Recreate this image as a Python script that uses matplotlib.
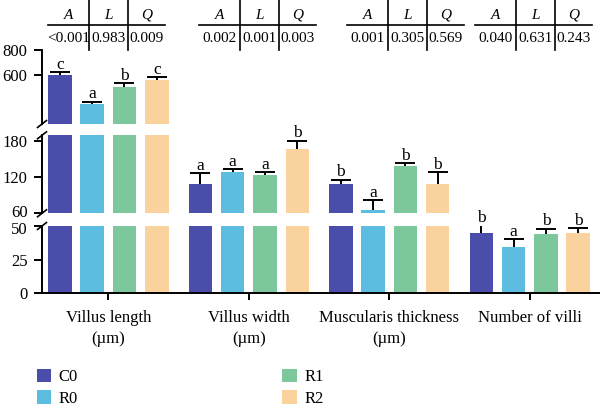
import matplotlib
matplotlib.use("Agg")
import matplotlib.pyplot as plt
import numpy as np
from matplotlib.lines import Line2D
from matplotlib.patches import Patch
from matplotlib.transforms import blended_transform_factory, ScaledTranslation

plt.rcParams['font.family'] = ['Liberation Serif', 'DejaVu Serif']

# data
groups = ["Villus length\n(µm)", "Villus width\n(µm)",
          "Muscularis thickness\n(µm)", "Number of villi"]
treatments = ["C0", "R0", "R1", "R2"]
colors = ["#4b4daa", "#5dbde0", "#7cc89c", "#fad29e"]

c0_mean = [598, 108, 108, 45]
r0_mean = [366, 128, 65.5, 34.6]
r1_mean = [501, 124, 139, 44]
r2_mean = [560, 167, 109, 44.5]

c0_err = [22, 19, 8, 5.5]
r0_err = [16, 5, 16, 5.5]
r1_err = [32, 4, 4.5, 4]
r2_err = [18, 14, 20, 4]

c0_letters = ["c", "a", "b", "b"]
r0_letters = ["a", "a", "a", "a"]
r1_letters = ["b", "a", "b", "b"]
r2_letters = ["c", "b", "b", "b"]

table_header = ["A", "L", "Q"]
p_values = [["<0.001", "0.983", "0.009"],
            ["0.002", "0.001", "0.003"],
            ["0.001", "0.305", "0.569"],
            ["0.040", "0.631", "0.243"]]

means = [c0_mean, r0_mean, r1_mean, r2_mean]
errs = [c0_err, r0_err, r1_err, r2_err]
letters = [c0_letters, r0_letters, r1_letters, r2_letters]

# broken y axis segments (bottom -> top)
segments = [(0, 50, [0, 25, 50]), (60, 190, [60, 120, 180]), (200, 800, [600, 800])]
seg_pos = [(0.2836, 0.1638), (0.4785, 0.1907), (0.6968, 0.1810)]

fig = plt.figure(figsize=(6, 4.09), dpi=100)
axes = []
x = np.arange(len(groups))
offs = (np.arange(4) - 1.5) * 0.23
width = 0.167
fs = 11

for (lo, hi, ticks), (b, h) in zip(segments, seg_pos):
    ax = fig.add_axes([0.07, b, 0.93, h])
    for i in range(4):
        ax.bar(x + offs[i], means[i], width, color=colors[i], linewidth=0)
        _, caps, _ = ax.errorbar(x + offs[i], means[i], yerr=[np.zeros(4), errs[i]],
                                 fmt='none', ecolor='black', elinewidth=1.4,
                                 capsize=7, capthick=1.4)
        caps[0].set_visible(False)
    ax.set_ylim(lo, hi)
    ax.set_xlim(-0.472, 3.5)
    ax.set_yticks(ticks)
    ax.tick_params(axis='y', labelsize=12, width=1.4, length=5.5, pad=5)
    for s in ['top', 'right']:
        ax.spines[s].set_visible(False)
    ax.spines['left'].set_linewidth(1.4)
    if axes:
        ax.spines['bottom'].set_visible(False)
        ax.set_xticks([])
    else:
        ax.spines['bottom'].set_linewidth(1.4)
        ax.set_xticks(x)
        ax.set_xticklabels(groups, fontsize=12, linespacing=1.45)
        ax.tick_params(axis='x', width=1.4, length=5, pad=7)
    ax.patch.set_alpha(0)
    axes.append(ax)

# nudge the crowded 50 / 60 labels apart a little
fig.canvas.draw()
axes[0].get_yticklabels()[-1].set_transform(
    axes[0].get_yticklabels()[-1].get_transform() + ScaledTranslation(0, -1.5 / 72, fig.dpi_scale_trans))
axes[1].get_yticklabels()[0].set_transform(
    axes[1].get_yticklabels()[0].get_transform() + ScaledTranslation(0, 1.5 / 72, fig.dpi_scale_trans))

# break marks on the left spine
for k, ax in enumerate(axes):
    kw = dict(transform=ax.transAxes, color='black', lw=1.2, clip_on=False)
    dx, dy = 0.008, 0.05 * 0.17 / seg_pos[k][1]
    if k < len(axes) - 1:
        ax.plot([-dx, dx], [1 - dy, 1 + dy], **kw)
    if k > 0:
        ax.plot([-dx, dx], [-dy, dy], **kw)

# significance letters
for i in range(4):
    for g in range(4):
        top = means[i][g] + errs[i][g]
        for (lo, hi, _), ax in zip(segments, axes):
            if lo <= top <= hi + 15:
                ax.annotate(letters[i][g], (x[g] + offs[i], top), xytext=(0, -0.5),
                            textcoords='offset points', ha='center', va='bottom',
                            fontsize=12.5, annotation_clip=False)
                break

# p-value tables above each group
tr = blended_transform_factory(axes[-1].transData, fig.transFigure)
table_left = [-0.431, 0.646, 1.697, 2.609]
col_w = [0.292, 0.278, 0.263]
for g in range(4):
    edges = table_left[g] + np.concatenate([[0], np.cumsum(col_w)])
    fig.add_artist(Line2D([edges[0], edges[-1]], [0.939, 0.939], transform=tr,
                          color='black', lw=1.2))
    for c in range(3):
        cx = (edges[c] + edges[c + 1]) / 2
        fig.text(cx, 0.963, table_header[c], transform=tr, ha='center', va='center',
                 fontsize=fs, style='italic')
        fig.text(cx, 0.905, p_values[g][c], transform=tr, ha='center', va='center',
                 fontsize=fs)
    for c in (1, 2):
        fig.add_artist(Line2D([edges[c], edges[c]], [0.878, 1.0], transform=tr,
                              color='black', lw=1.2))

handles = [Patch(facecolor=col, edgecolor='none', label=t) for col, t in zip(colors, treatments)]
fig.legend(handles=handles, ncol=2, loc='upper left', bbox_to_anchor=(0.047, 0.118),
           frameon=False, fontsize=12, handlelength=0.85, handleheight=0.85,
           handletextpad=0.45, columnspacing=12.3, labelspacing=0.3, borderpad=0)

fig.savefig("out.png", dpi=100)
